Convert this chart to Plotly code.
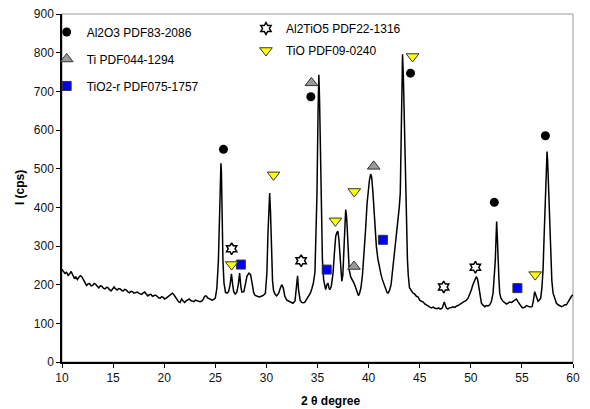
import plotly.graph_objs as go

# XRD pattern (2 theta in degree, intensity in cps)
two_theta = [
    10.0, 10.15, 10.3, 10.45, 10.6, 10.75, 10.9, 11.05, 11.2, 11.35, 11.5, 11.65, 11.8, 11.95,
    12.1, 12.25, 12.4, 12.55, 12.7, 12.85, 13.0, 13.15, 13.3, 13.45, 13.6, 13.75, 13.9, 14.05,
    14.2, 14.35, 14.5, 14.65, 14.8, 14.95, 15.1, 15.25, 15.4, 15.55, 15.7, 15.85, 16.0, 16.15,
    16.3, 16.45, 16.6, 16.75, 16.9, 17.05, 17.2, 17.35, 17.5, 17.65, 17.8, 17.95, 18.1, 18.25,
    18.4, 18.55, 18.7, 18.85, 19.0, 19.15, 19.3, 19.45, 19.6, 19.75, 19.9, 20.05, 20.2, 20.35,
    20.5, 20.65, 20.8, 20.95, 21.1, 21.25, 21.4, 21.55, 21.7, 21.85, 22.0, 22.15, 22.3, 22.45,
    22.6, 22.75, 22.9, 23.05, 23.2, 23.35, 23.5, 23.65, 23.8, 23.95, 24.1, 24.25, 24.4, 24.55,
    24.7, 24.85, 25.0, 25.15, 25.3, 25.42, 25.5, 25.55, 25.6, 25.66, 25.75, 25.85, 26.0, 26.15,
    26.3, 26.45, 26.58, 26.7, 26.8, 26.95, 27.1, 27.25, 27.38, 27.5, 27.6, 27.8, 27.95, 28.1,
    28.3, 28.45, 28.6, 28.75, 28.9, 29.1, 29.3, 29.5, 29.7, 29.9, 30.05, 30.15, 30.25, 30.32,
    30.4, 30.5, 30.6, 30.7, 30.85, 31.0, 31.2, 31.35, 31.5, 31.65, 31.8, 32.0, 32.2, 32.4,
    32.6, 32.8, 32.95, 33.05, 33.15, 33.3, 33.45, 33.6, 33.75, 33.9, 34.1, 34.3, 34.45, 34.6,
    34.75, 34.85, 34.95, 35.05, 35.13, 35.2, 35.28, 35.38, 35.48, 35.6, 35.7, 35.8, 35.92, 36.03,
    36.12, 36.2, 36.35, 36.52, 36.65, 36.78, 36.9, 37.0, 37.1, 37.17, 37.28, 37.38, 37.48, 37.6,
    37.7, 37.76, 37.83, 37.9, 38.0, 38.1, 38.25, 38.4, 38.57, 38.7, 38.85, 39.0, 39.1, 39.25,
    39.4, 39.55, 39.7, 39.85, 39.95, 40.08, 40.2, 40.3, 40.42, 40.55, 40.65, 40.76, 40.9, 41.02,
    41.2, 41.35, 41.5, 41.67, 41.8, 41.9, 42.05, 42.2, 42.35, 42.55, 42.7, 42.89, 43.0, 43.1,
    43.18, 43.26, 43.32, 43.4, 43.48, 43.56, 43.64, 43.72, 43.8, 43.88, 44.0, 44.15, 44.35, 44.5,
    44.68, 44.85, 45.0, 45.17, 45.35, 45.5, 45.66, 45.85, 46.0, 46.15, 46.3, 46.5, 46.7, 46.85,
    47.0, 47.2, 47.3, 47.4, 47.5, 47.6, 47.75, 47.9, 48.1, 48.26, 48.45, 48.6, 48.75, 48.91,
    49.1, 49.25, 49.4, 49.55, 49.73, 49.9, 50.06, 50.2, 50.38, 50.55, 50.68, 50.77, 50.9, 51.04,
    51.2, 51.36, 51.5, 51.7, 51.85, 52.0, 52.18, 52.3, 52.4, 52.47, 52.53, 52.6, 52.66, 52.75,
    52.83, 52.95, 53.15, 53.35, 53.5, 53.64, 53.8, 54.0, 54.13, 54.3, 54.46, 54.6, 54.79, 54.95,
    55.1, 55.3, 55.45, 55.6, 55.8, 55.99, 56.1, 56.25, 56.33, 56.41, 56.57, 56.7, 56.84, 56.95,
    57.07, 57.18, 57.3, 57.4, 57.46, 57.52, 57.63, 57.72, 57.82, 57.93, 58.05, 58.2, 58.38, 58.55,
    58.7, 58.87, 59.05, 59.2, 59.36, 59.5, 59.68, 59.85, 60.0,
]
intensity = [
    239, 233, 229, 232, 224, 228, 234, 225, 217, 220, 213, 219, 223, 220,
    213, 205, 198, 202, 203, 197, 198, 203, 201, 196, 192, 197, 196, 191,
    189, 193, 192, 187, 184, 189, 194, 189, 186, 190, 189, 185, 184, 188,
    186, 181, 179, 183, 182, 178, 179, 181, 178, 176, 175, 179, 181, 175,
    171, 174, 175, 170, 171, 173, 170, 166, 165, 169, 167, 163, 165, 168,
    170, 175, 178, 174, 168, 163, 156, 154, 163, 158, 154, 158, 160, 163,
    159, 158, 156, 160, 159, 157, 156, 157, 161, 170, 171, 166, 164, 163,
    160, 162, 165, 190, 260, 380, 480, 514, 490, 380, 260, 204, 180, 178,
    182, 200, 228, 200, 182, 176, 180, 200, 230, 195, 181, 182, 200, 222,
    230, 226, 204, 180, 172, 170, 168, 170, 172, 178, 230, 330, 432, 437,
    390, 282, 210, 185, 175, 171, 178, 190, 200, 192, 170, 160, 157, 155,
    152, 158, 190, 223, 185, 160, 154, 153, 154, 160, 170, 178, 190, 205,
    232, 320, 437, 640, 743, 680, 523, 380, 264, 213, 195, 187, 200, 204,
    192, 187, 196, 230, 280, 325, 335, 338, 315, 290, 230, 209, 225, 282,
    360, 394, 380, 350, 270, 239, 220, 213, 204, 195, 182, 172, 176, 192,
    225, 275, 340, 410, 440, 470, 486, 478, 440, 380, 335, 299, 268, 247,
    228, 213, 200, 187, 180, 178, 185, 200, 235, 282, 325, 368, 400, 437,
    560, 720, 796, 740, 640, 520, 400, 330, 265, 225, 192, 186, 178, 176,
    170, 168, 160, 157, 155, 150, 148, 146, 142, 140, 142, 139, 138, 140,
    137, 139, 146, 155, 148, 140, 137, 140, 141, 143, 141, 145, 146, 148,
    152, 155, 156, 159, 165, 175, 187, 200, 213, 221, 212, 196, 172, 152,
    147, 143, 146, 145, 148, 155, 178, 215, 264, 320, 363, 320, 264, 215,
    178, 165, 157, 154, 150, 152, 155, 154, 157, 160, 163, 157, 148, 143,
    140, 142, 146, 145, 142, 143, 155, 182, 175, 165, 157, 160, 165, 190,
    239, 330, 437, 520, 544, 520, 437, 340, 264, 210, 178, 163, 152, 148,
    146, 143, 145, 148, 148, 155, 165, 170, 174,
]

# Phase identification marks (position above the peaks)
al2o3_x = [25.8, 34.35, 44.1, 52.3, 57.3]
al2o3_y = [550, 686, 747, 413, 585]
ti_x = [34.4, 38.57, 40.5]
ti_y = [722, 247, 506]
tio2_x = [27.5, 35.9, 41.4, 54.56]
tio2_y = [252, 239, 316, 191]
al2tio5_x = [26.6, 33.4, 47.35, 50.45]
al2tio5_y = [293, 262, 194, 245]
tio_x = [26.6, 30.7, 36.75, 38.6, 44.3, 56.3]
tio_y = [252, 484, 365, 441, 790, 226]

x_ticks = [10, 15, 20, 25, 30, 35, 40, 45, 50, 55, 60]
y_ticks = [0, 100, 200, 300, 400, 500, 600, 700, 800, 900]

font_family = "Arial, Liberation Sans, sans-serif"

data = []

pattern = go.Scatter(
    x=two_theta,
    y=intensity,
    mode="lines",
    line={"color": "black", "width": 1.5},
    showlegend=False,
    hoverinfo="skip",
)
data.append(pattern)

# phases of the left legend
data.append(go.Scatter(
    x=al2o3_x, y=al2o3_y, mode="markers", name="Al2O3 PDF83-2086",
    marker={"symbol": "circle", "size": 9, "color": "black"},
    legend="legend", legendgroup="a",
))
data.append(go.Scatter(
    x=ti_x, y=ti_y, mode="markers", name="Ti PDF044-1294",
    marker={"symbol": "triangle-up", "size": 11, "color": "#999999",
            "line": {"color": "#333333", "width": 1}},
    legend="legend", legendgroup="b",
))
data.append(go.Scatter(
    x=tio2_x, y=tio2_y, mode="markers", name="TiO2-r PDF075-1757",
    marker={"symbol": "square", "size": 9, "color": "#0000FF",
            "line": {"color": "#333333", "width": 1}},
    legend="legend", legendgroup="c",
))

# phases of the middle legend
data.append(go.Scatter(
    x=al2tio5_x, y=al2tio5_y, mode="markers", name="Al2TiO5 PDF22-1316",
    marker={"symbol": "hexagram", "size": 9, "color": "white",
            "line": {"color": "black", "width": 1.5}},
    legend="legend2", legendgroup="d",
))
data.append(go.Scatter(
    x=tio_x, y=tio_y, mode="markers", name="TiO PDF09-0240",
    marker={"symbol": "triangle-down", "size": 11, "color": "#FFFF00",
            "line": {"color": "#333333", "width": 1}},
    legend="legend2", legendgroup="e",
))

axis_common = {
    "showgrid": False,
    "zeroline": False,
    "showline": True,
    "linecolor": "black",
    "linewidth": 1.5,
    "ticks": "outside",
    "ticklen": 4,
    "tickcolor": "black",
    "ticklabeloverflow": "allow",
    "tickfont": {"family": font_family, "size": 12, "color": "#111111"},
}

# the page body keeps its 8px margin, so the figure is 8px smaller than the window
layout = go.Layout(
    width=582,
    height=401,
    margin={"l": 54, "r": 17, "t": 6, "b": 47, "autoexpand": False},
    paper_bgcolor="white",
    plot_bgcolor="white",
    font={"family": font_family, "size": 12, "color": "black"},
    xaxis=dict(axis_common, range=[10, 60], tickvals=x_ticks),
    yaxis=dict(axis_common, range=[0, 900], tickvals=y_ticks),
    legend={
        "x": -0.03, "y": 0.99, "xanchor": "left", "yanchor": "top",
        "bgcolor": "rgba(0,0,0,0)", "tracegroupgap": 8,
        "font": {"family": font_family, "size": 12},
    },
    legend2={
        "x": 0.36, "y": 1.0, "xanchor": "left", "yanchor": "top",
        "bgcolor": "rgba(0,0,0,0)", "tracegroupgap": 3,
        "font": {"family": font_family, "size": 12},
    },
    shapes=[
        # grey frame on the top and right side
        {"type": "rect", "xref": "paper", "yref": "paper", "x0": 0, "x1": 1, "y0": 0, "y1": 1,
         "line": {"color": "#999999", "width": 1}, "layer": "below"},
    ],
    annotations=[
        {"text": "<b>2 θ degree</b>", "xref": "paper", "yref": "paper", "x": 0.526, "y": -0.112,
         "xanchor": "center", "yanchor": "middle", "showarrow": False,
         "font": {"family": font_family, "size": 12}},
        {"text": "<b>I (cps)</b>", "xref": "paper", "yref": "paper", "x": -0.082, "y": 0.5,
         "xanchor": "center", "yanchor": "middle", "textangle": -90, "showarrow": False,
         "font": {"family": font_family, "size": 12}},
    ],
)

fig = go.Figure(data=data, layout=layout)
fig.write_html("out.html")
